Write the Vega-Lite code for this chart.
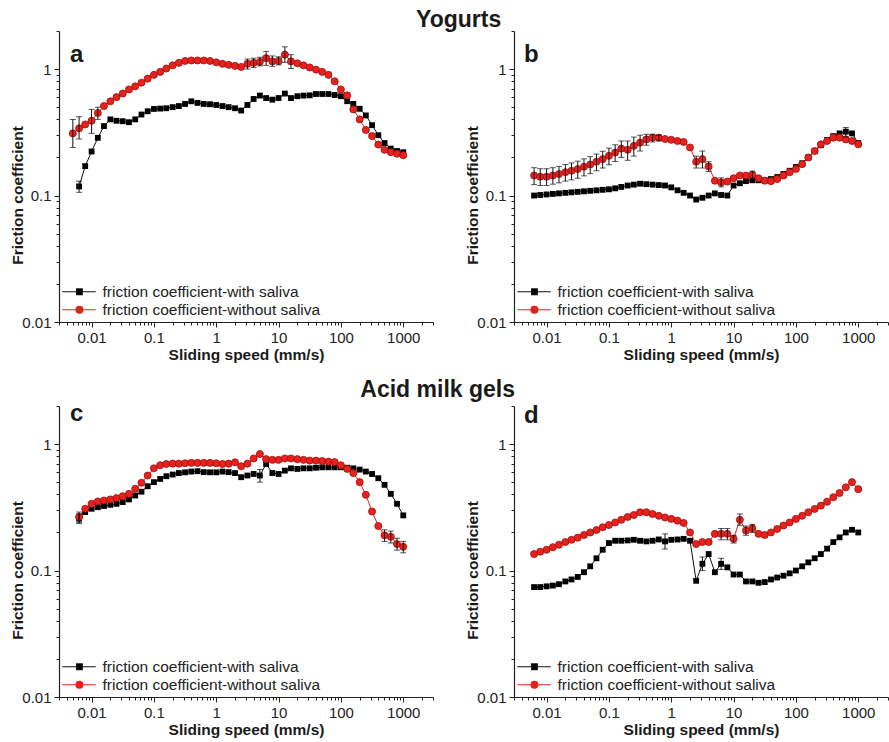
{
"$schema": "https://vega.github.io/schema/vega-lite/v6.json",
"padding": {"left": 10, "top": 9, "right": 0, "bottom": 0},
"background": "white",
"config": {
  "view": {"stroke": null},
  "font": "Liberation Sans",
  "axis": {"grid": false, "domainColor": "#222", "domainWidth": 1.2, "tickColor": "#222", "tickWidth": 1, "labelColor": "#222", "titleColor": "#1a1a1a", "labelFont": "Liberation Sans", "titleFont": "Liberation Sans", "labelFontSize": 15, "titleFontSize": 15.5, "titleFontWeight": "bold", "labelPadding": 3, "labelOverlap": false, "labelFlush": false},
  "legend": {"orient": "bottom-left", "offset": 3, "title": null, "padding": 0, "labelFont": "Liberation Sans", "labelFontSize": 15.5, "labelColor": "#222", "labelLimit": 0, "symbolSize": 64, "labelOffset": 25, "rowPadding": 1, "symbolStrokeWidth": 1.2},
  "title": {"font": "Liberation Sans", "color": "#1a1a1a", "fontWeight": "bold"}
},
"datasets": {"fc": [
{"panel":"a","series":"with","speed":0.0063,"mu":0.118,"lo":0.106,"hi":0.13},
{"panel":"a","series":"with","speed":0.0079,"mu":0.171},
{"panel":"a","series":"with","speed":0.01,"mu":0.223},
{"panel":"a","series":"with","speed":0.0126,"mu":0.286},
{"panel":"a","series":"with","speed":0.0158,"mu":0.354},
{"panel":"a","series":"with","speed":0.02,"mu":0.40},
{"panel":"a","series":"with","speed":0.0251,"mu":0.39},
{"panel":"a","series":"with","speed":0.0316,"mu":0.387},
{"panel":"a","series":"with","speed":0.0398,"mu":0.38},
{"panel":"a","series":"with","speed":0.0501,"mu":0.40},
{"panel":"a","series":"with","speed":0.0631,"mu":0.437},
{"panel":"a","series":"with","speed":0.0794,"mu":0.464},
{"panel":"a","series":"with","speed":0.1,"mu":0.484},
{"panel":"a","series":"with","speed":0.126,"mu":0.487},
{"panel":"a","series":"with","speed":0.158,"mu":0.49},
{"panel":"a","series":"with","speed":0.2,"mu":0.50},
{"panel":"a","series":"with","speed":0.251,"mu":0.51},
{"panel":"a","series":"with","speed":0.316,"mu":0.53},
{"panel":"a","series":"with","speed":0.398,"mu":0.556},
{"panel":"a","series":"with","speed":0.501,"mu":0.54},
{"panel":"a","series":"with","speed":0.631,"mu":0.53},
{"panel":"a","series":"with","speed":0.794,"mu":0.527},
{"panel":"a","series":"with","speed":1,"mu":0.52},
{"panel":"a","series":"with","speed":1.26,"mu":0.51},
{"panel":"a","series":"with","speed":1.58,"mu":0.50},
{"panel":"a","series":"with","speed":2,"mu":0.49},
{"panel":"a","series":"with","speed":2.51,"mu":0.47},
{"panel":"a","series":"with","speed":3.16,"mu":0.52},
{"panel":"a","series":"with","speed":3.98,"mu":0.58},
{"panel":"a","series":"with","speed":5.01,"mu":0.617},
{"panel":"a","series":"with","speed":6.31,"mu":0.59},
{"panel":"a","series":"with","speed":7.94,"mu":0.573},
{"panel":"a","series":"with","speed":10,"mu":0.59},
{"panel":"a","series":"with","speed":12.6,"mu":0.64},
{"panel":"a","series":"with","speed":15.8,"mu":0.59},
{"panel":"a","series":"with","speed":20,"mu":0.61},
{"panel":"a","series":"with","speed":25.1,"mu":0.617},
{"panel":"a","series":"with","speed":31.6,"mu":0.62},
{"panel":"a","series":"with","speed":39.8,"mu":0.635},
{"panel":"a","series":"with","speed":50.1,"mu":0.635},
{"panel":"a","series":"with","speed":63.1,"mu":0.635},
{"panel":"a","series":"with","speed":79.4,"mu":0.624},
{"panel":"a","series":"with","speed":100,"mu":0.61},
{"panel":"a","series":"with","speed":126,"mu":0.557},
{"panel":"a","series":"with","speed":158,"mu":0.53},
{"panel":"a","series":"with","speed":200,"mu":0.485},
{"panel":"a","series":"with","speed":251,"mu":0.43},
{"panel":"a","series":"with","speed":316,"mu":0.36},
{"panel":"a","series":"with","speed":398,"mu":0.30},
{"panel":"a","series":"with","speed":501,"mu":0.26},
{"panel":"a","series":"with","speed":631,"mu":0.235},
{"panel":"a","series":"with","speed":794,"mu":0.225},
{"panel":"a","series":"with","speed":1000,"mu":0.22},
{"panel":"a","series":"without","speed":0.005,"mu":0.31,"lo":0.24,"hi":0.40},
{"panel":"a","series":"without","speed":0.0063,"mu":0.34,"lo":0.28,"hi":0.42},
{"panel":"a","series":"without","speed":0.0079,"mu":0.365},
{"panel":"a","series":"without","speed":0.01,"mu":0.39,"lo":0.31,"hi":0.48},
{"panel":"a","series":"without","speed":0.0126,"mu":0.45,"lo":0.40,"hi":0.50},
{"panel":"a","series":"without","speed":0.0158,"mu":0.51},
{"panel":"a","series":"without","speed":0.02,"mu":0.556},
{"panel":"a","series":"without","speed":0.0251,"mu":0.60},
{"panel":"a","series":"without","speed":0.0316,"mu":0.64},
{"panel":"a","series":"without","speed":0.0398,"mu":0.69},
{"panel":"a","series":"without","speed":0.0501,"mu":0.73},
{"panel":"a","series":"without","speed":0.0631,"mu":0.78},
{"panel":"a","series":"without","speed":0.0794,"mu":0.84},
{"panel":"a","series":"without","speed":0.1,"mu":0.90},
{"panel":"a","series":"without","speed":0.126,"mu":0.95},
{"panel":"a","series":"without","speed":0.158,"mu":1.01},
{"panel":"a","series":"without","speed":0.2,"mu":1.07},
{"panel":"a","series":"without","speed":0.251,"mu":1.12},
{"panel":"a","series":"without","speed":0.316,"mu":1.16},
{"panel":"a","series":"without","speed":0.398,"mu":1.17},
{"panel":"a","series":"without","speed":0.501,"mu":1.17},
{"panel":"a","series":"without","speed":0.631,"mu":1.17},
{"panel":"a","series":"without","speed":0.794,"mu":1.16},
{"panel":"a","series":"without","speed":1,"mu":1.13},
{"panel":"a","series":"without","speed":1.26,"mu":1.10},
{"panel":"a","series":"without","speed":1.58,"mu":1.08},
{"panel":"a","series":"without","speed":2,"mu":1.06},
{"panel":"a","series":"without","speed":2.51,"mu":1.04},
{"panel":"a","series":"without","speed":3.16,"mu":1.10,"lo":1.0,"hi":1.2},
{"panel":"a","series":"without","speed":3.98,"mu":1.12,"lo":1.03,"hi":1.22},
{"panel":"a","series":"without","speed":5.01,"mu":1.14,"lo":1.06,"hi":1.24},
{"panel":"a","series":"without","speed":6.31,"mu":1.22,"lo":1.07,"hi":1.38},
{"panel":"a","series":"without","speed":7.94,"mu":1.15,"lo":1.05,"hi":1.27},
{"panel":"a","series":"without","speed":10,"mu":1.16,"lo":1.08,"hi":1.25},
{"panel":"a","series":"without","speed":12.6,"mu":1.30,"lo":1.13,"hi":1.5},
{"panel":"a","series":"without","speed":15.8,"mu":1.15,"lo":1.01,"hi":1.3},
{"panel":"a","series":"without","speed":20,"mu":1.11},
{"panel":"a","series":"without","speed":25.1,"mu":1.07},
{"panel":"a","series":"without","speed":31.6,"mu":1.03},
{"panel":"a","series":"without","speed":39.8,"mu":0.99},
{"panel":"a","series":"without","speed":50.1,"mu":0.95},
{"panel":"a","series":"without","speed":63.1,"mu":0.90},
{"panel":"a","series":"without","speed":79.4,"mu":0.80},
{"panel":"a","series":"without","speed":100,"mu":0.69},
{"panel":"a","series":"without","speed":126,"mu":0.62},
{"panel":"a","series":"without","speed":158,"mu":0.48},
{"panel":"a","series":"without","speed":200,"mu":0.40},
{"panel":"a","series":"without","speed":251,"mu":0.33},
{"panel":"a","series":"without","speed":316,"mu":0.295},
{"panel":"a","series":"without","speed":398,"mu":0.253},
{"panel":"a","series":"without","speed":501,"mu":0.23},
{"panel":"a","series":"without","speed":631,"mu":0.22},
{"panel":"a","series":"without","speed":794,"mu":0.214},
{"panel":"a","series":"without","speed":1000,"mu":0.208},
{"panel":"b","series":"with","speed":0.0063,"mu":0.1},
{"panel":"b","series":"with","speed":0.0079,"mu":0.101},
{"panel":"b","series":"with","speed":0.01,"mu":0.102},
{"panel":"b","series":"with","speed":0.0126,"mu":0.103},
{"panel":"b","series":"with","speed":0.0158,"mu":0.104},
{"panel":"b","series":"with","speed":0.02,"mu":0.105},
{"panel":"b","series":"with","speed":0.0251,"mu":0.106},
{"panel":"b","series":"with","speed":0.0316,"mu":0.107},
{"panel":"b","series":"with","speed":0.0398,"mu":0.108},
{"panel":"b","series":"with","speed":0.0501,"mu":0.109},
{"panel":"b","series":"with","speed":0.0631,"mu":0.11},
{"panel":"b","series":"with","speed":0.0794,"mu":0.111},
{"panel":"b","series":"with","speed":0.1,"mu":0.112},
{"panel":"b","series":"with","speed":0.126,"mu":0.114},
{"panel":"b","series":"with","speed":0.158,"mu":0.117},
{"panel":"b","series":"with","speed":0.2,"mu":0.12},
{"panel":"b","series":"with","speed":0.251,"mu":0.122},
{"panel":"b","series":"with","speed":0.316,"mu":0.124},
{"panel":"b","series":"with","speed":0.398,"mu":0.123},
{"panel":"b","series":"with","speed":0.501,"mu":0.122},
{"panel":"b","series":"with","speed":0.631,"mu":0.121},
{"panel":"b","series":"with","speed":0.794,"mu":0.12},
{"panel":"b","series":"with","speed":1,"mu":0.116},
{"panel":"b","series":"with","speed":1.26,"mu":0.11},
{"panel":"b","series":"with","speed":1.58,"mu":0.105},
{"panel":"b","series":"with","speed":2,"mu":0.10},
{"panel":"b","series":"with","speed":2.51,"mu":0.093},
{"panel":"b","series":"with","speed":3.16,"mu":0.096},
{"panel":"b","series":"with","speed":3.98,"mu":0.10},
{"panel":"b","series":"with","speed":5.01,"mu":0.104},
{"panel":"b","series":"with","speed":6.31,"mu":0.101},
{"panel":"b","series":"with","speed":7.94,"mu":0.10},
{"panel":"b","series":"with","speed":10,"mu":0.12},
{"panel":"b","series":"with","speed":12.6,"mu":0.125},
{"panel":"b","series":"with","speed":15.8,"mu":0.13},
{"panel":"b","series":"with","speed":20,"mu":0.132},
{"panel":"b","series":"with","speed":25.1,"mu":0.132},
{"panel":"b","series":"with","speed":31.6,"mu":0.132},
{"panel":"b","series":"with","speed":39.8,"mu":0.135},
{"panel":"b","series":"with","speed":50.1,"mu":0.14},
{"panel":"b","series":"with","speed":63.1,"mu":0.148},
{"panel":"b","series":"with","speed":79.4,"mu":0.157},
{"panel":"b","series":"with","speed":100,"mu":0.168},
{"panel":"b","series":"with","speed":126,"mu":0.18},
{"panel":"b","series":"with","speed":158,"mu":0.2},
{"panel":"b","series":"with","speed":200,"mu":0.225},
{"panel":"b","series":"with","speed":251,"mu":0.25},
{"panel":"b","series":"with","speed":316,"mu":0.275},
{"panel":"b","series":"with","speed":398,"mu":0.295},
{"panel":"b","series":"with","speed":501,"mu":0.31},
{"panel":"b","series":"with","speed":631,"mu":0.32,"lo":0.29,"hi":0.345},
{"panel":"b","series":"with","speed":794,"mu":0.31},
{"panel":"b","series":"with","speed":1000,"mu":0.26},
{"panel":"b","series":"without","speed":0.0063,"mu":0.144,"lo":0.122,"hi":0.166},
{"panel":"b","series":"without","speed":0.0079,"mu":0.141,"lo":0.12,"hi":0.163},
{"panel":"b","series":"without","speed":0.01,"mu":0.141,"lo":0.12,"hi":0.163},
{"panel":"b","series":"without","speed":0.0126,"mu":0.144,"lo":0.123,"hi":0.166},
{"panel":"b","series":"without","speed":0.0158,"mu":0.148,"lo":0.126,"hi":0.17},
{"panel":"b","series":"without","speed":0.02,"mu":0.153,"lo":0.13,"hi":0.176},
{"panel":"b","series":"without","speed":0.0251,"mu":0.157,"lo":0.133,"hi":0.181},
{"panel":"b","series":"without","speed":0.0316,"mu":0.162,"lo":0.137,"hi":0.187},
{"panel":"b","series":"without","speed":0.0398,"mu":0.169,"lo":0.143,"hi":0.195},
{"panel":"b","series":"without","speed":0.0501,"mu":0.176,"lo":0.149,"hi":0.203},
{"panel":"b","series":"without","speed":0.0631,"mu":0.185,"lo":0.157,"hi":0.213},
{"panel":"b","series":"without","speed":0.0794,"mu":0.194,"lo":0.165,"hi":0.224},
{"panel":"b","series":"without","speed":0.1,"mu":0.206,"lo":0.175,"hi":0.237},
{"panel":"b","series":"without","speed":0.126,"mu":0.219,"lo":0.186,"hi":0.252},
{"panel":"b","series":"without","speed":0.158,"mu":0.235,"lo":0.2,"hi":0.27},
{"panel":"b","series":"without","speed":0.2,"mu":0.23,"lo":0.19,"hi":0.27},
{"panel":"b","series":"without","speed":0.251,"mu":0.247,"lo":0.205,"hi":0.29},
{"panel":"b","series":"without","speed":0.316,"mu":0.262,"lo":0.225,"hi":0.3},
{"panel":"b","series":"without","speed":0.398,"mu":0.278,"lo":0.25,"hi":0.305},
{"panel":"b","series":"without","speed":0.501,"mu":0.287,"lo":0.265,"hi":0.305},
{"panel":"b","series":"without","speed":0.631,"mu":0.287,"lo":0.27,"hi":0.3},
{"panel":"b","series":"without","speed":0.794,"mu":0.28},
{"panel":"b","series":"without","speed":1,"mu":0.276},
{"panel":"b","series":"without","speed":1.26,"mu":0.27},
{"panel":"b","series":"without","speed":1.58,"mu":0.265},
{"panel":"b","series":"without","speed":2,"mu":0.24},
{"panel":"b","series":"without","speed":2.51,"mu":0.185,"lo":0.165,"hi":0.205},
{"panel":"b","series":"without","speed":3.16,"mu":0.194,"lo":0.165,"hi":0.225},
{"panel":"b","series":"without","speed":3.98,"mu":0.17,"lo":0.155,"hi":0.185},
{"panel":"b","series":"without","speed":5.01,"mu":0.131},
{"panel":"b","series":"without","speed":6.31,"mu":0.127,"lo":0.117,"hi":0.138},
{"panel":"b","series":"without","speed":7.94,"mu":0.129},
{"panel":"b","series":"without","speed":10,"mu":0.137},
{"panel":"b","series":"without","speed":12.6,"mu":0.144},
{"panel":"b","series":"without","speed":15.8,"mu":0.144},
{"panel":"b","series":"without","speed":20,"mu":0.146,"lo":0.136,"hi":0.156},
{"panel":"b","series":"without","speed":25.1,"mu":0.137},
{"panel":"b","series":"without","speed":31.6,"mu":0.131},
{"panel":"b","series":"without","speed":39.8,"mu":0.13},
{"panel":"b","series":"without","speed":50.1,"mu":0.135},
{"panel":"b","series":"without","speed":63.1,"mu":0.144},
{"panel":"b","series":"without","speed":79.4,"mu":0.153},
{"panel":"b","series":"without","speed":100,"mu":0.162},
{"panel":"b","series":"without","speed":126,"mu":0.177},
{"panel":"b","series":"without","speed":158,"mu":0.2},
{"panel":"b","series":"without","speed":200,"mu":0.225},
{"panel":"b","series":"without","speed":251,"mu":0.254},
{"panel":"b","series":"without","speed":316,"mu":0.27},
{"panel":"b","series":"without","speed":398,"mu":0.287},
{"panel":"b","series":"without","speed":501,"mu":0.287},
{"panel":"b","series":"without","speed":631,"mu":0.278},
{"panel":"b","series":"without","speed":794,"mu":0.27},
{"panel":"b","series":"without","speed":1000,"mu":0.254},
{"panel":"c","series":"with","speed":0.0063,"mu":0.257,"lo":0.235,"hi":0.28},
{"panel":"c","series":"with","speed":0.0079,"mu":0.29},
{"panel":"c","series":"with","speed":0.01,"mu":0.308},
{"panel":"c","series":"with","speed":0.0126,"mu":0.317},
{"panel":"c","series":"with","speed":0.0158,"mu":0.324},
{"panel":"c","series":"with","speed":0.02,"mu":0.331},
{"panel":"c","series":"with","speed":0.0251,"mu":0.337},
{"panel":"c","series":"with","speed":0.0316,"mu":0.348},
{"panel":"c","series":"with","speed":0.0398,"mu":0.365},
{"panel":"c","series":"with","speed":0.0501,"mu":0.392},
{"panel":"c","series":"with","speed":0.0631,"mu":0.42},
{"panel":"c","series":"with","speed":0.0794,"mu":0.464},
{"panel":"c","series":"with","speed":0.1,"mu":0.50},
{"panel":"c","series":"with","speed":0.126,"mu":0.53},
{"panel":"c","series":"with","speed":0.158,"mu":0.557},
{"panel":"c","series":"with","speed":0.2,"mu":0.574},
{"panel":"c","series":"with","speed":0.251,"mu":0.59},
{"panel":"c","series":"with","speed":0.316,"mu":0.598},
{"panel":"c","series":"with","speed":0.398,"mu":0.606},
{"panel":"c","series":"with","speed":0.501,"mu":0.61},
{"panel":"c","series":"with","speed":0.631,"mu":0.60},
{"panel":"c","series":"with","speed":0.794,"mu":0.598},
{"panel":"c","series":"with","speed":1,"mu":0.598},
{"panel":"c","series":"with","speed":1.26,"mu":0.606},
{"panel":"c","series":"with","speed":1.58,"mu":0.60},
{"panel":"c","series":"with","speed":2,"mu":0.59},
{"panel":"c","series":"with","speed":2.51,"mu":0.547},
{"panel":"c","series":"with","speed":3.16,"mu":0.564},
{"panel":"c","series":"with","speed":3.98,"mu":0.58},
{"panel":"c","series":"with","speed":5.01,"mu":0.564,"lo":0.5,"hi":0.63},
{"panel":"c","series":"with","speed":6.31,"mu":0.696},
{"panel":"c","series":"with","speed":7.94,"mu":0.59},
{"panel":"c","series":"with","speed":10,"mu":0.58},
{"panel":"c","series":"with","speed":12.6,"mu":0.617},
{"panel":"c","series":"with","speed":15.8,"mu":0.643},
{"panel":"c","series":"with","speed":20,"mu":0.636},
{"panel":"c","series":"with","speed":25.1,"mu":0.643},
{"panel":"c","series":"with","speed":31.6,"mu":0.643},
{"panel":"c","series":"with","speed":39.8,"mu":0.65},
{"panel":"c","series":"with","speed":50.1,"mu":0.655},
{"panel":"c","series":"with","speed":63.1,"mu":0.655},
{"panel":"c","series":"with","speed":79.4,"mu":0.655},
{"panel":"c","series":"with","speed":100,"mu":0.655},
{"panel":"c","series":"with","speed":126,"mu":0.65},
{"panel":"c","series":"with","speed":158,"mu":0.643},
{"panel":"c","series":"with","speed":200,"mu":0.628},
{"panel":"c","series":"with","speed":251,"mu":0.606},
{"panel":"c","series":"with","speed":316,"mu":0.58},
{"panel":"c","series":"with","speed":398,"mu":0.537},
{"panel":"c","series":"with","speed":501,"mu":0.476},
{"panel":"c","series":"with","speed":631,"mu":0.404},
{"panel":"c","series":"with","speed":794,"mu":0.337},
{"panel":"c","series":"with","speed":1000,"mu":0.273},
{"panel":"c","series":"without","speed":0.0063,"mu":0.265,"lo":0.24,"hi":0.29},
{"panel":"c","series":"without","speed":0.0079,"mu":0.308},
{"panel":"c","series":"without","speed":0.01,"mu":0.337},
{"panel":"c","series":"without","speed":0.0126,"mu":0.352},
{"panel":"c","series":"without","speed":0.0158,"mu":0.358},
{"panel":"c","series":"without","speed":0.02,"mu":0.365},
{"panel":"c","series":"without","speed":0.0251,"mu":0.374},
{"panel":"c","series":"without","speed":0.0316,"mu":0.387},
{"panel":"c","series":"without","speed":0.0398,"mu":0.404},
{"panel":"c","series":"without","speed":0.0501,"mu":0.443},
{"panel":"c","series":"without","speed":0.0631,"mu":0.494},
{"panel":"c","series":"without","speed":0.0794,"mu":0.564},
{"panel":"c","series":"without","speed":0.1,"mu":0.643},
{"panel":"c","series":"without","speed":0.126,"mu":0.68},
{"panel":"c","series":"without","speed":0.158,"mu":0.696},
{"panel":"c","series":"without","speed":0.2,"mu":0.70},
{"panel":"c","series":"without","speed":0.251,"mu":0.70},
{"panel":"c","series":"without","speed":0.316,"mu":0.705},
{"panel":"c","series":"without","speed":0.398,"mu":0.71},
{"panel":"c","series":"without","speed":0.501,"mu":0.71},
{"panel":"c","series":"without","speed":0.631,"mu":0.71},
{"panel":"c","series":"without","speed":0.794,"mu":0.71},
{"panel":"c","series":"without","speed":1,"mu":0.705},
{"panel":"c","series":"without","speed":1.26,"mu":0.696},
{"panel":"c","series":"without","speed":1.58,"mu":0.70},
{"panel":"c","series":"without","speed":2,"mu":0.717},
{"panel":"c","series":"without","speed":2.51,"mu":0.667},
{"panel":"c","series":"without","speed":3.16,"mu":0.70},
{"panel":"c","series":"without","speed":3.98,"mu":0.77},
{"panel":"c","series":"without","speed":5.01,"mu":0.834},
{"panel":"c","series":"without","speed":6.31,"mu":0.76},
{"panel":"c","series":"without","speed":7.94,"mu":0.75},
{"panel":"c","series":"without","speed":10,"mu":0.75},
{"panel":"c","series":"without","speed":12.6,"mu":0.77},
{"panel":"c","series":"without","speed":15.8,"mu":0.77},
{"panel":"c","series":"without","speed":20,"mu":0.76},
{"panel":"c","series":"without","speed":25.1,"mu":0.75},
{"panel":"c","series":"without","speed":31.6,"mu":0.74},
{"panel":"c","series":"without","speed":39.8,"mu":0.74},
{"panel":"c","series":"without","speed":50.1,"mu":0.735},
{"panel":"c","series":"without","speed":63.1,"mu":0.726},
{"panel":"c","series":"without","speed":79.4,"mu":0.72},
{"panel":"c","series":"without","speed":100,"mu":0.68},
{"panel":"c","series":"without","speed":126,"mu":0.636},
{"panel":"c","series":"without","speed":158,"mu":0.59},
{"panel":"c","series":"without","speed":200,"mu":0.50},
{"panel":"c","series":"without","speed":251,"mu":0.397},
{"panel":"c","series":"without","speed":316,"mu":0.293},
{"panel":"c","series":"without","speed":398,"mu":0.225},
{"panel":"c","series":"without","speed":501,"mu":0.19,"lo":0.17,"hi":0.21},
{"panel":"c","series":"without","speed":631,"mu":0.185,"lo":0.165,"hi":0.205},
{"panel":"c","series":"without","speed":794,"mu":0.162,"lo":0.145,"hi":0.18},
{"panel":"c","series":"without","speed":1000,"mu":0.154,"lo":0.138,"hi":0.17},
{"panel":"d","series":"with","speed":0.0063,"mu":0.074},
{"panel":"d","series":"with","speed":0.0079,"mu":0.074},
{"panel":"d","series":"with","speed":0.01,"mu":0.075},
{"panel":"d","series":"with","speed":0.0126,"mu":0.076},
{"panel":"d","series":"with","speed":0.0158,"mu":0.078},
{"panel":"d","series":"with","speed":0.02,"mu":0.082},
{"panel":"d","series":"with","speed":0.0251,"mu":0.085},
{"panel":"d","series":"with","speed":0.0316,"mu":0.089},
{"panel":"d","series":"with","speed":0.0398,"mu":0.097},
{"panel":"d","series":"with","speed":0.0501,"mu":0.108},
{"panel":"d","series":"with","speed":0.0631,"mu":0.125},
{"panel":"d","series":"with","speed":0.0794,"mu":0.146},
{"panel":"d","series":"with","speed":0.1,"mu":0.165},
{"panel":"d","series":"with","speed":0.126,"mu":0.172},
{"panel":"d","series":"with","speed":0.158,"mu":0.172},
{"panel":"d","series":"with","speed":0.2,"mu":0.173},
{"panel":"d","series":"with","speed":0.251,"mu":0.175},
{"panel":"d","series":"with","speed":0.316,"mu":0.172},
{"panel":"d","series":"with","speed":0.398,"mu":0.17},
{"panel":"d","series":"with","speed":0.501,"mu":0.172},
{"panel":"d","series":"with","speed":0.631,"mu":0.176},
{"panel":"d","series":"with","speed":0.794,"mu":0.17,"lo":0.148,"hi":0.195},
{"panel":"d","series":"with","speed":1,"mu":0.175},
{"panel":"d","series":"with","speed":1.26,"mu":0.176},
{"panel":"d","series":"with","speed":1.58,"mu":0.178},
{"panel":"d","series":"with","speed":2,"mu":0.172},
{"panel":"d","series":"with","speed":2.51,"mu":0.083},
{"panel":"d","series":"with","speed":3.16,"mu":0.113,"lo":0.1,"hi":0.128},
{"panel":"d","series":"with","speed":3.98,"mu":0.135},
{"panel":"d","series":"with","speed":5.01,"mu":0.097},
{"panel":"d","series":"with","speed":6.31,"mu":0.113,"lo":0.102,"hi":0.125},
{"panel":"d","series":"with","speed":7.94,"mu":0.106},
{"panel":"d","series":"with","speed":10,"mu":0.093},
{"panel":"d","series":"with","speed":12.6,"mu":0.093},
{"panel":"d","series":"with","speed":15.8,"mu":0.082},
{"panel":"d","series":"with","speed":20,"mu":0.082},
{"panel":"d","series":"with","speed":25.1,"mu":0.08},
{"panel":"d","series":"with","speed":31.6,"mu":0.081},
{"panel":"d","series":"with","speed":39.8,"mu":0.085},
{"panel":"d","series":"with","speed":50.1,"mu":0.088},
{"panel":"d","series":"with","speed":63.1,"mu":0.091},
{"panel":"d","series":"with","speed":79.4,"mu":0.095},
{"panel":"d","series":"with","speed":100,"mu":0.1},
{"panel":"d","series":"with","speed":126,"mu":0.108},
{"panel":"d","series":"with","speed":158,"mu":0.116},
{"panel":"d","series":"with","speed":200,"mu":0.125},
{"panel":"d","series":"with","speed":251,"mu":0.135},
{"panel":"d","series":"with","speed":316,"mu":0.149},
{"panel":"d","series":"with","speed":398,"mu":0.168},
{"panel":"d","series":"with","speed":501,"mu":0.183},
{"panel":"d","series":"with","speed":631,"mu":0.2},
{"panel":"d","series":"with","speed":794,"mu":0.21},
{"panel":"d","series":"with","speed":1000,"mu":0.2},
{"panel":"d","series":"without","speed":0.0063,"mu":0.135},
{"panel":"d","series":"without","speed":0.0079,"mu":0.141},
{"panel":"d","series":"without","speed":0.01,"mu":0.146},
{"panel":"d","series":"without","speed":0.0126,"mu":0.153},
{"panel":"d","series":"without","speed":0.0158,"mu":0.16},
{"panel":"d","series":"without","speed":0.02,"mu":0.168},
{"panel":"d","series":"without","speed":0.0251,"mu":0.175},
{"panel":"d","series":"without","speed":0.0316,"mu":0.182},
{"panel":"d","series":"without","speed":0.0398,"mu":0.191},
{"panel":"d","series":"without","speed":0.0501,"mu":0.2},
{"panel":"d","series":"without","speed":0.0631,"mu":0.209},
{"panel":"d","series":"without","speed":0.0794,"mu":0.22},
{"panel":"d","series":"without","speed":0.1,"mu":0.229},
{"panel":"d","series":"without","speed":0.126,"mu":0.24},
{"panel":"d","series":"without","speed":0.158,"mu":0.252},
{"panel":"d","series":"without","speed":0.2,"mu":0.265},
{"panel":"d","series":"without","speed":0.251,"mu":0.275},
{"panel":"d","series":"without","speed":0.316,"mu":0.289},
{"panel":"d","series":"without","speed":0.398,"mu":0.289},
{"panel":"d","series":"without","speed":0.501,"mu":0.28},
{"panel":"d","series":"without","speed":0.631,"mu":0.271},
{"panel":"d","series":"without","speed":0.794,"mu":0.263},
{"panel":"d","series":"without","speed":1,"mu":0.256},
{"panel":"d","series":"without","speed":1.26,"mu":0.248},
{"panel":"d","series":"without","speed":1.58,"mu":0.238},
{"panel":"d","series":"without","speed":2,"mu":0.2},
{"panel":"d","series":"without","speed":2.51,"mu":0.162},
{"panel":"d","series":"without","speed":3.16,"mu":0.168},
{"panel":"d","series":"without","speed":3.98,"mu":0.168},
{"panel":"d","series":"without","speed":5.01,"mu":0.195},
{"panel":"d","series":"without","speed":6.31,"mu":0.195,"lo":0.175,"hi":0.215},
{"panel":"d","series":"without","speed":7.94,"mu":0.195,"lo":0.175,"hi":0.215},
{"panel":"d","series":"without","speed":10,"mu":0.178,"lo":0.165,"hi":0.19},
{"panel":"d","series":"without","speed":12.6,"mu":0.252,"lo":0.228,"hi":0.28},
{"panel":"d","series":"without","speed":15.8,"mu":0.207,"lo":0.19,"hi":0.225},
{"panel":"d","series":"without","speed":20,"mu":0.216,"lo":0.2,"hi":0.232},
{"panel":"d","series":"without","speed":25.1,"mu":0.195},
{"panel":"d","series":"without","speed":31.6,"mu":0.191},
{"panel":"d","series":"without","speed":39.8,"mu":0.2},
{"panel":"d","series":"without","speed":50.1,"mu":0.213},
{"panel":"d","series":"without","speed":63.1,"mu":0.227},
{"panel":"d","series":"without","speed":79.4,"mu":0.24},
{"panel":"d","series":"without","speed":100,"mu":0.256},
{"panel":"d","series":"without","speed":126,"mu":0.271},
{"panel":"d","series":"without","speed":158,"mu":0.289},
{"panel":"d","series":"without","speed":200,"mu":0.307},
{"panel":"d","series":"without","speed":251,"mu":0.326},
{"panel":"d","series":"without","speed":316,"mu":0.35},
{"panel":"d","series":"without","speed":398,"mu":0.38},
{"panel":"d","series":"without","speed":501,"mu":0.41},
{"panel":"d","series":"without","speed":631,"mu":0.455},
{"panel":"d","series":"without","speed":794,"mu":0.5},
{"panel":"d","series":"without","speed":1000,"mu":0.44}
]},
"spacing": 16,
"resolve": {"scale": {"x": "independent", "y": "independent", "color": "independent"}, "legend": {"color": "independent"}},
"vconcat": [
 {"title": {"text": "Yogurts", "fontSize": 23, "anchor": "middle", "dx": 9, "offset": -8},
  "spacing": 31,
  "resolve": {"scale": {"x": "independent", "y": "independent", "color": "independent"}, "legend": {"color": "independent"}},
  "hconcat": [
   {"width": 374, "height": 291,
    "layer": [
      {"data": {"name": "fc"}, "transform": [{"filter": "datum.panel === 'a'"}],
       "mark": {"type": "line", "strokeWidth": 1},
       "encoding": {
         "x": {"field": "speed", "type": "quantitative", "scale": {"type": "log", "domain": [0.003, 3000], "nice": false},
           "axis": {"title": "Sliding speed (mm/s)", "titlePadding": 2, "values": [0.003,0.004,0.005,0.006,0.007,0.008,0.009,0.01,0.02,0.03,0.04,0.05,0.06,0.07,0.08,0.09,0.1,0.2,0.3,0.4,0.5,0.6,0.7,0.8,0.9,1,2,3,4,5,6,7,8,9,10,20,30,40,50,60,70,80,90,100,200,300,400,500,600,700,800,900,1000,2000,3000], "labelExpr": "indexof([0.01,0.1,1,10,100,1000], datum.value) >= 0 ? datum.value + '' : ''", "tickSize": {"condition": {"test": "indexof([0.01,0.1,1,10,100,1000], datum.value) >= 0", "value": 5}, "value": 3}}},
         "y": {"field": "mu", "type": "quantitative", "scale": {"type": "log", "domain": [0.01, 2], "nice": false},
           "axis": {"title": "Friction coefficient", "titleY": 164, "titlePadding": -4, "values": [0.01,0.02,0.03,0.04,0.05,0.06,0.07,0.08,0.09,0.1,0.2,0.3,0.4,0.5,0.6,0.7,0.8,0.9,1,2], "labelExpr": "indexof([0.01,0.1,1], datum.value) >= 0 ? datum.value + '' : ''", "tickSize": {"condition": {"test": "indexof([0.01,0.1,1], datum.value) >= 0", "value": 5}, "value": 3}}},
         "color": {"field": "series", "type": "nominal", "scale": {"domain": ["with", "without"], "range": ["#111111", "#e3201b"]},
         "legend": {"labelExpr": "'friction coefficient-' + datum.label + ' saliva'", "encode": {"symbols": {"update": {"shape": {"signal": "datum.value === 'with' ? 'M-1.875,0H6.5M1.725,-0.7H3.125V0.7H1.725Z' : 'M-1.875,0H6.5M3.275,0A0.85,0.85,0,1,1,1.575,0A0.85,0.85,0,1,1,3.275,0Z'"}, "fill": {"signal": "datum.value === 'with' ? '#000000' : '#e8211c'"}, "stroke": {"signal": "datum.value === 'with' ? '#111111' : '#e3201b'"}, "strokeWidth": {"value": 1.2}, "opacity": {"value": 1}}}}}}}},
      {"data": {"name": "fc"}, "transform": [{"filter": "datum.panel === 'a' && datum.series === 'with'"}], "mark": {"type": "point", "shape": "square", "filled": true, "size": 34, "color": "#000000", "opacity": 1},
       "encoding": {"x": {"field": "speed", "type": "quantitative", "scale": {"type": "log", "domain": [0.003, 3000], "nice": false}}, "y": {"field": "mu", "type": "quantitative", "scale": {"type": "log", "domain": [0.01, 2], "nice": false}}}},
      {"data": {"name": "fc"}, "transform": [{"filter": "datum.panel === 'a' && datum.series === 'without'"}], "mark": {"type": "point", "shape": "circle", "filled": true, "size": 50, "fill": "#e8211c", "stroke": "#9a1010", "strokeWidth": 0.8, "opacity": 1},
       "encoding": {"x": {"field": "speed", "type": "quantitative", "scale": {"type": "log", "domain": [0.003, 3000], "nice": false}}, "y": {"field": "mu", "type": "quantitative", "scale": {"type": "log", "domain": [0.01, 2], "nice": false}}}},
      {"data": {"name": "fc"}, "transform": [{"filter": "datum.panel === 'a' && isValid(datum.lo)"}], "mark": {"type": "errorbar", "ticks": {"size": 6, "color": "#111111"}, "color": "#111111", "thickness": 1},
       "encoding": {"x": {"field": "speed", "type": "quantitative", "scale": {"type": "log", "domain": [0.003, 3000], "nice": false}}, "y": {"field": "lo", "type": "quantitative", "scale": {"type": "log", "domain": [0.01, 2], "nice": false}, "title": "Friction coefficient"}, "y2": {"field": "hi"}}},
      {"data": {"values": [{"label": "a"}]}, "mark": {"type": "text", "fontSize": 24, "fontWeight": "bold", "align": "left", "baseline": "alphabetic", "color": "#1a1a1a"},
       "encoding": {"text": {"field": "label", "type": "nominal"}, "x": {"datum": 0.0045, "type": "quantitative", "scale": {"type": "log", "domain": [0.003, 3000], "nice": false}}, "y": {"datum": 1.14, "type": "quantitative", "scale": {"type": "log", "domain": [0.01, 2], "nice": false}}}}
    ]
   },
   {"width": 374, "height": 291,
    "layer": [
      {"data": {"name": "fc"}, "transform": [{"filter": "datum.panel === 'b'"}],
       "mark": {"type": "line", "strokeWidth": 1},
       "encoding": {
         "x": {"field": "speed", "type": "quantitative", "scale": {"type": "log", "domain": [0.003, 3000], "nice": false},
           "axis": {"title": "Sliding speed (mm/s)", "titlePadding": 2, "values": [0.003,0.004,0.005,0.006,0.007,0.008,0.009,0.01,0.02,0.03,0.04,0.05,0.06,0.07,0.08,0.09,0.1,0.2,0.3,0.4,0.5,0.6,0.7,0.8,0.9,1,2,3,4,5,6,7,8,9,10,20,30,40,50,60,70,80,90,100,200,300,400,500,600,700,800,900,1000,2000,3000], "labelExpr": "indexof([0.01,0.1,1,10,100,1000], datum.value) >= 0 ? datum.value + '' : ''", "tickSize": {"condition": {"test": "indexof([0.01,0.1,1,10,100,1000], datum.value) >= 0", "value": 5}, "value": 3}}},
         "y": {"field": "mu", "type": "quantitative", "scale": {"type": "log", "domain": [0.01, 2], "nice": false},
           "axis": {"title": "Friction coefficient", "titleY": 164, "titlePadding": -4, "values": [0.01,0.02,0.03,0.04,0.05,0.06,0.07,0.08,0.09,0.1,0.2,0.3,0.4,0.5,0.6,0.7,0.8,0.9,1,2], "labelExpr": "indexof([0.01,0.1,1], datum.value) >= 0 ? datum.value + '' : ''", "tickSize": {"condition": {"test": "indexof([0.01,0.1,1], datum.value) >= 0", "value": 5}, "value": 3}}},
         "color": {"field": "series", "type": "nominal", "scale": {"domain": ["with", "without"], "range": ["#111111", "#e3201b"]},
         "legend": {"labelExpr": "'friction coefficient-' + datum.label + ' saliva'", "encode": {"symbols": {"update": {"shape": {"signal": "datum.value === 'with' ? 'M-1.875,0H6.5M1.725,-0.7H3.125V0.7H1.725Z' : 'M-1.875,0H6.5M3.275,0A0.85,0.85,0,1,1,1.575,0A0.85,0.85,0,1,1,3.275,0Z'"}, "fill": {"signal": "datum.value === 'with' ? '#000000' : '#e8211c'"}, "stroke": {"signal": "datum.value === 'with' ? '#111111' : '#e3201b'"}, "strokeWidth": {"value": 1.2}, "opacity": {"value": 1}}}}}}}},
      {"data": {"name": "fc"}, "transform": [{"filter": "datum.panel === 'b' && datum.series === 'with'"}], "mark": {"type": "point", "shape": "square", "filled": true, "size": 34, "color": "#000000", "opacity": 1},
       "encoding": {"x": {"field": "speed", "type": "quantitative", "scale": {"type": "log", "domain": [0.003, 3000], "nice": false}}, "y": {"field": "mu", "type": "quantitative", "scale": {"type": "log", "domain": [0.01, 2], "nice": false}}}},
      {"data": {"name": "fc"}, "transform": [{"filter": "datum.panel === 'b' && datum.series === 'without'"}], "mark": {"type": "point", "shape": "circle", "filled": true, "size": 50, "fill": "#e8211c", "stroke": "#9a1010", "strokeWidth": 0.8, "opacity": 1},
       "encoding": {"x": {"field": "speed", "type": "quantitative", "scale": {"type": "log", "domain": [0.003, 3000], "nice": false}}, "y": {"field": "mu", "type": "quantitative", "scale": {"type": "log", "domain": [0.01, 2], "nice": false}}}},
      {"data": {"name": "fc"}, "transform": [{"filter": "datum.panel === 'b' && isValid(datum.lo)"}], "mark": {"type": "errorbar", "ticks": {"size": 6, "color": "#111111"}, "color": "#111111", "thickness": 1},
       "encoding": {"x": {"field": "speed", "type": "quantitative", "scale": {"type": "log", "domain": [0.003, 3000], "nice": false}}, "y": {"field": "lo", "type": "quantitative", "scale": {"type": "log", "domain": [0.01, 2], "nice": false}, "title": "Friction coefficient"}, "y2": {"field": "hi"}}},
      {"data": {"values": [{"label": "b"}]}, "mark": {"type": "text", "fontSize": 24, "fontWeight": "bold", "align": "left", "baseline": "alphabetic", "color": "#1a1a1a"},
       "encoding": {"text": {"field": "label", "type": "nominal"}, "x": {"datum": 0.00434, "type": "quantitative", "scale": {"type": "log", "domain": [0.003, 3000], "nice": false}}, "y": {"datum": 1.14, "type": "quantitative", "scale": {"type": "log", "domain": [0.01, 2], "nice": false}}}}
    ]
   }
  ]
 },
 {"title": {"text": "Acid milk gels", "fontSize": 23, "anchor": "middle", "dx": -12, "offset": -3},
  "spacing": 31,
  "resolve": {"scale": {"x": "independent", "y": "independent", "color": "independent"}, "legend": {"color": "independent"}},
  "hconcat": [
   {"width": 374, "height": 291,
    "layer": [
      {"data": {"name": "fc"}, "transform": [{"filter": "datum.panel === 'c'"}],
       "mark": {"type": "line", "strokeWidth": 1},
       "encoding": {
         "x": {"field": "speed", "type": "quantitative", "scale": {"type": "log", "domain": [0.003, 3000], "nice": false},
           "axis": {"title": "Sliding speed (mm/s)", "titlePadding": 2, "values": [0.003,0.004,0.005,0.006,0.007,0.008,0.009,0.01,0.02,0.03,0.04,0.05,0.06,0.07,0.08,0.09,0.1,0.2,0.3,0.4,0.5,0.6,0.7,0.8,0.9,1,2,3,4,5,6,7,8,9,10,20,30,40,50,60,70,80,90,100,200,300,400,500,600,700,800,900,1000,2000,3000], "labelExpr": "indexof([0.01,0.1,1,10,100,1000], datum.value) >= 0 ? datum.value + '' : ''", "tickSize": {"condition": {"test": "indexof([0.01,0.1,1,10,100,1000], datum.value) >= 0", "value": 5}, "value": 3}}},
         "y": {"field": "mu", "type": "quantitative", "scale": {"type": "log", "domain": [0.01, 2], "nice": false},
           "axis": {"title": "Friction coefficient", "titleY": 164, "titlePadding": -4, "values": [0.01,0.02,0.03,0.04,0.05,0.06,0.07,0.08,0.09,0.1,0.2,0.3,0.4,0.5,0.6,0.7,0.8,0.9,1,2], "labelExpr": "indexof([0.01,0.1,1], datum.value) >= 0 ? datum.value + '' : ''", "tickSize": {"condition": {"test": "indexof([0.01,0.1,1], datum.value) >= 0", "value": 5}, "value": 3}}},
         "color": {"field": "series", "type": "nominal", "scale": {"domain": ["with", "without"], "range": ["#111111", "#e3201b"]},
         "legend": {"labelExpr": "'friction coefficient-' + datum.label + ' saliva'", "encode": {"symbols": {"update": {"shape": {"signal": "datum.value === 'with' ? 'M-1.875,0H6.5M1.725,-0.7H3.125V0.7H1.725Z' : 'M-1.875,0H6.5M3.275,0A0.85,0.85,0,1,1,1.575,0A0.85,0.85,0,1,1,3.275,0Z'"}, "fill": {"signal": "datum.value === 'with' ? '#000000' : '#e8211c'"}, "stroke": {"signal": "datum.value === 'with' ? '#111111' : '#e3201b'"}, "strokeWidth": {"value": 1.2}, "opacity": {"value": 1}}}}}}}},
      {"data": {"name": "fc"}, "transform": [{"filter": "datum.panel === 'c' && datum.series === 'with'"}], "mark": {"type": "point", "shape": "square", "filled": true, "size": 34, "color": "#000000", "opacity": 1},
       "encoding": {"x": {"field": "speed", "type": "quantitative", "scale": {"type": "log", "domain": [0.003, 3000], "nice": false}}, "y": {"field": "mu", "type": "quantitative", "scale": {"type": "log", "domain": [0.01, 2], "nice": false}}}},
      {"data": {"name": "fc"}, "transform": [{"filter": "datum.panel === 'c' && datum.series === 'without'"}], "mark": {"type": "point", "shape": "circle", "filled": true, "size": 50, "fill": "#e8211c", "stroke": "#9a1010", "strokeWidth": 0.8, "opacity": 1},
       "encoding": {"x": {"field": "speed", "type": "quantitative", "scale": {"type": "log", "domain": [0.003, 3000], "nice": false}}, "y": {"field": "mu", "type": "quantitative", "scale": {"type": "log", "domain": [0.01, 2], "nice": false}}}},
      {"data": {"name": "fc"}, "transform": [{"filter": "datum.panel === 'c' && isValid(datum.lo)"}], "mark": {"type": "errorbar", "ticks": {"size": 6, "color": "#111111"}, "color": "#111111", "thickness": 1},
       "encoding": {"x": {"field": "speed", "type": "quantitative", "scale": {"type": "log", "domain": [0.003, 3000], "nice": false}}, "y": {"field": "lo", "type": "quantitative", "scale": {"type": "log", "domain": [0.01, 2], "nice": false}, "title": "Friction coefficient"}, "y2": {"field": "hi"}}},
      {"data": {"values": [{"label": "c"}]}, "mark": {"type": "text", "fontSize": 24, "fontWeight": "bold", "align": "left", "baseline": "alphabetic", "color": "#1a1a1a"},
       "encoding": {"text": {"field": "label", "type": "nominal"}, "x": {"datum": 0.0045, "type": "quantitative", "scale": {"type": "log", "domain": [0.003, 3000], "nice": false}}, "y": {"datum": 1.52, "type": "quantitative", "scale": {"type": "log", "domain": [0.01, 2], "nice": false}}}}
    ]
   },
   {"width": 374, "height": 291,
    "layer": [
      {"data": {"name": "fc"}, "transform": [{"filter": "datum.panel === 'd'"}],
       "mark": {"type": "line", "strokeWidth": 1},
       "encoding": {
         "x": {"field": "speed", "type": "quantitative", "scale": {"type": "log", "domain": [0.003, 3000], "nice": false},
           "axis": {"title": "Sliding speed (mm/s)", "titlePadding": 2, "values": [0.003,0.004,0.005,0.006,0.007,0.008,0.009,0.01,0.02,0.03,0.04,0.05,0.06,0.07,0.08,0.09,0.1,0.2,0.3,0.4,0.5,0.6,0.7,0.8,0.9,1,2,3,4,5,6,7,8,9,10,20,30,40,50,60,70,80,90,100,200,300,400,500,600,700,800,900,1000,2000,3000], "labelExpr": "indexof([0.01,0.1,1,10,100,1000], datum.value) >= 0 ? datum.value + '' : ''", "tickSize": {"condition": {"test": "indexof([0.01,0.1,1,10,100,1000], datum.value) >= 0", "value": 5}, "value": 3}}},
         "y": {"field": "mu", "type": "quantitative", "scale": {"type": "log", "domain": [0.01, 2], "nice": false},
           "axis": {"title": "Friction coefficient", "titleY": 164, "titlePadding": -4, "values": [0.01,0.02,0.03,0.04,0.05,0.06,0.07,0.08,0.09,0.1,0.2,0.3,0.4,0.5,0.6,0.7,0.8,0.9,1,2], "labelExpr": "indexof([0.01,0.1,1], datum.value) >= 0 ? datum.value + '' : ''", "tickSize": {"condition": {"test": "indexof([0.01,0.1,1], datum.value) >= 0", "value": 5}, "value": 3}}},
         "color": {"field": "series", "type": "nominal", "scale": {"domain": ["with", "without"], "range": ["#111111", "#e3201b"]},
         "legend": {"labelExpr": "'friction coefficient-' + datum.label + ' saliva'", "encode": {"symbols": {"update": {"shape": {"signal": "datum.value === 'with' ? 'M-1.875,0H6.5M1.725,-0.7H3.125V0.7H1.725Z' : 'M-1.875,0H6.5M3.275,0A0.85,0.85,0,1,1,1.575,0A0.85,0.85,0,1,1,3.275,0Z'"}, "fill": {"signal": "datum.value === 'with' ? '#000000' : '#e8211c'"}, "stroke": {"signal": "datum.value === 'with' ? '#111111' : '#e3201b'"}, "strokeWidth": {"value": 1.2}, "opacity": {"value": 1}}}}}}}},
      {"data": {"name": "fc"}, "transform": [{"filter": "datum.panel === 'd' && datum.series === 'with'"}], "mark": {"type": "point", "shape": "square", "filled": true, "size": 34, "color": "#000000", "opacity": 1},
       "encoding": {"x": {"field": "speed", "type": "quantitative", "scale": {"type": "log", "domain": [0.003, 3000], "nice": false}}, "y": {"field": "mu", "type": "quantitative", "scale": {"type": "log", "domain": [0.01, 2], "nice": false}}}},
      {"data": {"name": "fc"}, "transform": [{"filter": "datum.panel === 'd' && datum.series === 'without'"}], "mark": {"type": "point", "shape": "circle", "filled": true, "size": 50, "fill": "#e8211c", "stroke": "#9a1010", "strokeWidth": 0.8, "opacity": 1},
       "encoding": {"x": {"field": "speed", "type": "quantitative", "scale": {"type": "log", "domain": [0.003, 3000], "nice": false}}, "y": {"field": "mu", "type": "quantitative", "scale": {"type": "log", "domain": [0.01, 2], "nice": false}}}},
      {"data": {"name": "fc"}, "transform": [{"filter": "datum.panel === 'd' && isValid(datum.lo)"}], "mark": {"type": "errorbar", "ticks": {"size": 6, "color": "#111111"}, "color": "#111111", "thickness": 1},
       "encoding": {"x": {"field": "speed", "type": "quantitative", "scale": {"type": "log", "domain": [0.003, 3000], "nice": false}}, "y": {"field": "lo", "type": "quantitative", "scale": {"type": "log", "domain": [0.01, 2], "nice": false}, "title": "Friction coefficient"}, "y2": {"field": "hi"}}},
      {"data": {"values": [{"label": "d"}]}, "mark": {"type": "text", "fontSize": 24, "fontWeight": "bold", "align": "left", "baseline": "alphabetic", "color": "#1a1a1a"},
       "encoding": {"text": {"field": "label", "type": "nominal"}, "x": {"datum": 0.00434, "type": "quantitative", "scale": {"type": "log", "domain": [0.003, 3000], "nice": false}}, "y": {"datum": 1.47, "type": "quantitative", "scale": {"type": "log", "domain": [0.01, 2], "nice": false}}}}
    ]
   }
  ]
 }
]
}
